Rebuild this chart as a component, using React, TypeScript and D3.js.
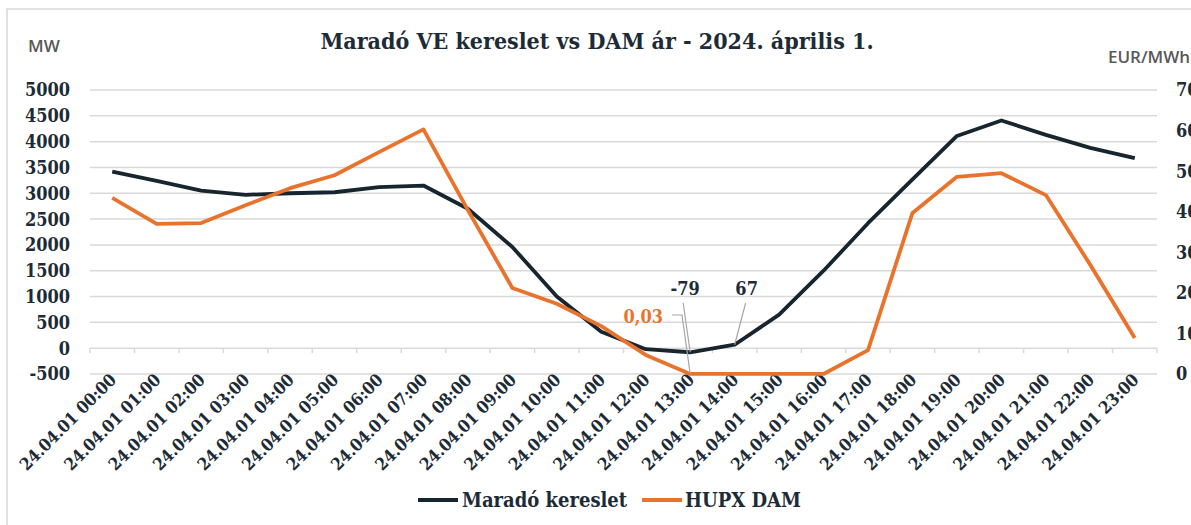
import * as d3 from "d3";

const hours = [
  "00:00", "01:00", "02:00", "03:00", "04:00", "05:00", "06:00", "07:00",
  "08:00", "09:00", "10:00", "11:00", "12:00", "13:00", "14:00", "15:00",
  "16:00", "17:00", "18:00", "19:00", "20:00", "21:00", "22:00", "23:00",
];
const categories = hours.map((h) => `24.04.01 ${h}`);

// Maradó kereslet, MW (left axis)
const demand = [
  3420, 3240, 3050, 2970, 3000, 3020, 3120, 3150, 2700, 1960, 1000, 320,
  -20, -79, 67, 650, 1500, 2420, 3270, 4110, 4410, 4130, 3880, 3680,
];
// HUPX DAM, EUR/MWh (right axis)
const price = [
  43.4, 37.0, 37.2, 41.6, 45.8, 49.0, 54.7, 60.3, 40.4, 21.2, 17.3, 11.8,
  4.7, 0.03, 0.01, 0.01, 0.01, 5.9, 39.7, 48.6, 49.5, 44.1, 26.9, 8.9,
];

const leftTicks = d3.range(-500, 5001, 500);
const rightTicks = d3.range(0, 71, 10);

const W = 1191;
const H = 525;
const navy = "#17252f";
const orange = "#e9732c";
const text = "#1d2b36";
const grid = "#d9d9d9";
const serif = "'DejaVu Serif Condensed', 'DejaVu Serif', serif";
const sans = "'Open Sans', 'Noto Sans', sans-serif";

export default function App() {
  const x = d3.scaleBand<string>().domain(categories).range([90, 1157]);
  const yL = d3.scaleLinear().domain([-500, 5000]).range([374, 90]);
  const yR = d3.scaleLinear().domain([0, 70]).range([374, 90]);
  const cx = (c: string) => (x(c) ?? 0) + x.bandwidth() / 2;

  const demandLine = d3
    .line<number>()
    .x((_, i) => cx(categories[i]))
    .y((v) => yL(v));
  const priceLine = d3
    .line<number>()
    .x((_, i) => cx(categories[i]))
    .y((v) => yR(v));

  const i79 = demand.indexOf(-79);
  const i67 = demand.indexOf(67);
  const i003 = price.indexOf(0.03);

  return (
    <svg
      width={W}
      height={H}
      style={{ position: "absolute", left: 0, top: 0, background: "#fff" }}
    >
      <path d={`M7,${H} V9 H${W}`} fill="none" stroke={grid} strokeWidth={1.5} />

      <text
        x={597}
        y={49}
        textAnchor="middle"
        fontFamily={serif}
        fontWeight="bold"
        fontSize={23}
        fill={text}
      >
        Maradó VE kereslet vs DAM ár - 2024. április 1.
      </text>

      <text x={28} y={52} fontFamily={sans} fontWeight={600} fontSize={17} fill="#595959">
        MW
      </text>
      <text x={1108} y={63} fontFamily={sans} fontWeight={600} fontSize={17} fill="#595959">
        EUR/MWh
      </text>

      {leftTicks.map((t) => (
        <g key={t}>
          <line x1={90} x2={1157} y1={yL(t)} y2={yL(t)} stroke={grid} strokeWidth={1.5} />
          <text
            x={70}
            y={yL(t)}
            dy="0.36em"
            textAnchor="end"
            fontFamily={serif}
            fontWeight="bold"
            fontSize={18}
            fill={text}
          >
            {t}
          </text>
        </g>
      ))}

      {rightTicks.map((t) => (
        <text
          key={t}
          x={1176}
          y={yR(t)}
          dy="0.36em"
          fontFamily={serif}
          fontWeight="bold"
          fontSize={18}
          fill={text}
        >
          {t}
        </text>
      ))}

      {/* category axis on the zero line */}
      {categories.concat([""]).map((c, i) => {
        const px = 90 + i * x.bandwidth();
        return (
          <line key={i} x1={px} x2={px} y1={yL(0)} y2={yL(0) + 5} stroke={grid} strokeWidth={1.5} />
        );
      })}

      {categories.map((c) => (
        <text
          key={c}
          transform={`translate(${cx(c) + 5},${381}) rotate(-45)`}
          textAnchor="end"
          fontFamily={serif}
          fontWeight="bold"
          fontSize={17}
          fill={text}
        >
          {c}
        </text>
      ))}

      <path d={demandLine(demand) ?? ""} fill="none" stroke={navy} strokeWidth={3.8} strokeLinejoin="round" />
      <path d={priceLine(price) ?? ""} fill="none" stroke={orange} strokeWidth={3.8} strokeLinejoin="round" />

      {/* data labels with leader lines */}
      <g stroke="#a6a6a6" strokeWidth={1.2} fill="none">
        <path d={`M${cx(categories[i79]) - 7},303 L${cx(categories[i79])},${yL(-79)}`} />
        <path d={`M${cx(categories[i67]) + 11},303 L${cx(categories[i67])},${yL(67)}`} />
        <path d={`M672,315 H682 L${cx(categories[i003])},${yR(0.03)}`} />
      </g>
      <text x={cx(categories[i79]) - 5} y={295} textAnchor="middle" fontFamily={serif} fontWeight="bold" fontSize={18} fill={text}>
        -79
      </text>
      <text x={cx(categories[i67]) + 12} y={295} textAnchor="middle" fontFamily={serif} fontWeight="bold" fontSize={18} fill={text}>
        67
      </text>
      <text x={663} y={323} textAnchor="end" fontFamily={serif} fontWeight="bold" fontSize={18} fill={orange}>
        0,03
      </text>

      {/* legend */}
      <line x1={418} x2={458} y1={500} y2={500} stroke={navy} strokeWidth={4} />
      <text x={462} y={507} fontFamily={serif} fontWeight="bold" fontSize={20} fill={text}>
        Maradó kereslet
      </text>
      <line x1={642} x2={682} y1={500} y2={500} stroke={orange} strokeWidth={4} />
      <text x={685} y={507} fontFamily={serif} fontWeight="bold" fontSize={20} fill={text}>
        HUPX DAM
      </text>
    </svg>
  );
}
